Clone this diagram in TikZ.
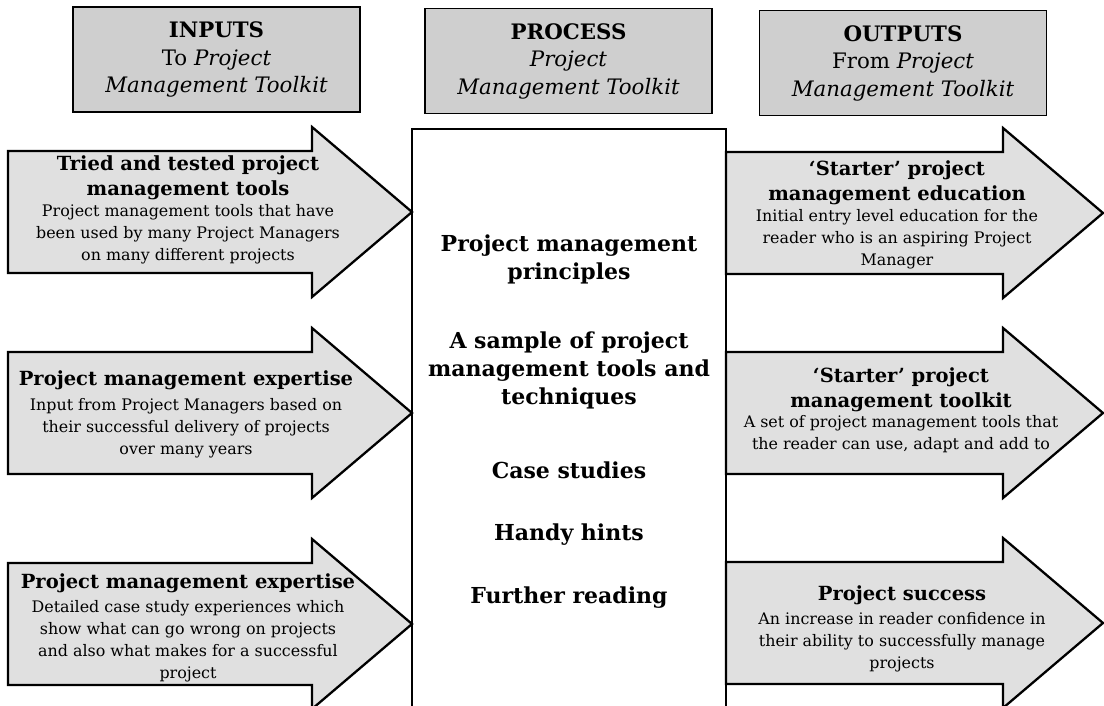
\documentclass[tikz,border=0pt]{standalone}
\usepackage{fontspec}
\setmainfont{DejaVu Serif}
\definecolor{headgray}{gray}{0.81}
\definecolor{arrowgray}{gray}{0.88}
\newcommand\headfont{\fontsize{21.3}{27.5}\selectfont}
\newcommand\titlefont{\fontsize{19.5}{25}\selectfont\bfseries}
\newcommand\bodyfont{\fontsize{15.9}{22}\selectfont}
\newcommand\corefont{\fontsize{22}{28}\selectfont\bfseries}
% block arrow: left end x, tip x, centre y
\newcommand\blockarrow[3]{%
  \draw[arrowshape] (#1,#3-61) -- (#2-100,#3-61) -- (#2-100,#3-85) -- (#2,#3)
    -- (#2-100,#3+85) -- (#2-100,#3+61) -- (#1,#3+61) -- cycle;}
\begin{document}
\begin{tikzpicture}[x=1pt,y=-1pt,
  header/.style={draw=black, line width=1.1pt, fill=headgray,
    minimum width=287pt, minimum height=105pt, inner sep=0pt,
    align=center, font=\headfont},
  arrowshape/.style={draw=black, line width=2.3pt, fill=arrowgray, line join=miter},
  corebox/.style={draw=black, line width=1.9pt, fill=white},
  title/.style={align=center, inner sep=0pt, font=\titlefont},
  body/.style={align=center, inner sep=0pt, font=\bodyfont},
  core/.style={align=center, inner sep=0pt, font=\corefont}]
\useasboundingbox (0,0) rectangle (1104,706);
\begin{scope}
\clip (0,0) rectangle (1104,706);

% column headers
\node[header] (hin)  at (216.5,59.5) {\textbf{INPUTS}\\To \textit{Project}\\\textit{Management Toolkit}};
\node[header] (hpro) at (568.5,61)   {\textbf{PROCESS}\\\textit{Project}\\\textit{Management Toolkit}};
\node[header] (hout) at (903,63)     {\textbf{OUTPUTS}\\From \textit{Project}\\\textit{Management Toolkit}};

% central process box
\draw[corebox] (412,129) rectangle (726,730);

% input arrows
\blockarrow{8}{412}{212}
\blockarrow{8}{412}{413}
\blockarrow{8}{412}{624}

% output arrows
\blockarrow{726}{1103}{213}
\blockarrow{726}{1103}{413}
\blockarrow{726}{1103}{623}

% input texts
\node[title] (in1t) at (188,177.5) {Tried and tested project\\management tools};
\node[body]  (in1b) at (188,234.5) {Project management tools that have\\been used by many Project Managers\\on many different projects};
\node[title] (in2t) at (186,380) {Project management expertise};
\node[body]  (in2b) at (186,428) {Input from Project Managers based on\\their successful delivery of projects\\over many years};
\node[title] (in3t) at (188,583) {Project management expertise};
\node[body]  (in3b) at (188,641) {Detailed case study experiences which\\show what can go wrong on projects\\and also what makes for a successful\\project};

% process contents
\node[core] (c1) at (569,259) {Project management\\principles};
\node[core] (c2) at (569,370) {A sample of project\\management tools and\\techniques};
\node[core] (c3) at (569,470) {Case studies};
\node[core] (c4) at (569,535) {Handy hints};
\node[core] (c5) at (569,598) {Further reading};

% output texts
\node[title] (out1t) at (897,182.5) {‘Starter’ project\\management education};
\node[body]  (out1b) at (897,239) {Initial entry level education for the\\reader who is an aspiring Project\\Manager};
\node[title] (out2t) at (901,389.5) {‘Starter’ project\\management toolkit};
\node[body]  (out2b) at (901,434) {A set of project management tools that\\the reader can use, adapt and add to};
\node[title] (out3t) at (902,595) {Project success};
\node[body]  (out3b) at (902,642) {An increase in reader confidence in\\their ability to successfully manage\\projects};
\end{scope}
\end{tikzpicture}
\end{document}
